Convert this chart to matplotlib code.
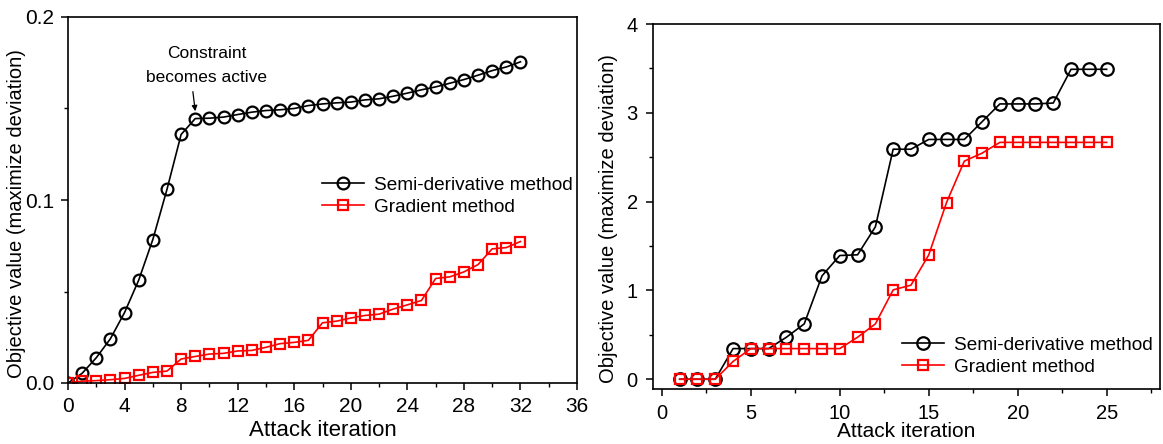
import matplotlib
matplotlib.use("Agg")
import matplotlib.pyplot as plt
from matplotlib.ticker import MultipleLocator, FormatStrFormatter

# ---- data: left panel ----
iter_left = list(range(0, 33))
semi_left = [0.0, 0.0053, 0.0138, 0.0242, 0.0385, 0.0562, 0.0784, 0.1058, 0.1358,
             0.1445, 0.1447, 0.1453, 0.1467, 0.1480, 0.1489, 0.1493, 0.1500, 0.1516,
             0.1525, 0.1531, 0.1535, 0.1547, 0.1553, 0.1567, 0.1584, 0.1602, 0.1618,
             0.1638, 0.1658, 0.1682, 0.1707, 0.1727, 0.1755]
grad_left = [0.0, 0.0010, 0.0013, 0.0018, 0.0025, 0.0042, 0.0058, 0.0065, 0.0131,
             0.0145, 0.0158, 0.0162, 0.0175, 0.0178, 0.0195, 0.0215, 0.0222, 0.0233,
             0.0329, 0.0338, 0.0355, 0.0369, 0.0376, 0.0404, 0.0427, 0.0451, 0.0571,
             0.0580, 0.0607, 0.0647, 0.0733, 0.0740, 0.0773]

# ---- data: right panel ----
iter_right = list(range(1, 26))
semi_right = [0.0, 0.0, 0.0, 0.345, 0.345, 0.345, 0.473, 0.623, 1.164, 1.393, 1.401,
              1.716, 2.59, 2.59, 2.70, 2.70, 2.70, 2.90, 3.10, 3.10, 3.10, 3.11,
              3.49, 3.49, 3.49]
grad_right = [0.0, 0.0, 0.0, 0.20, 0.345, 0.345, 0.345, 0.345, 0.345, 0.345, 0.473,
              0.623, 1.006, 1.059, 1.40, 1.99, 2.456, 2.546, 2.667, 2.667, 2.667,
              2.667, 2.667, 2.667, 2.667]

labels = ["Semi-derivative method", "Gradient method"]
ylabel = "Objective value (maximize deviation)"
xlabel = "Attack iteration"

plt.rcParams['font.family'] = ['Liberation Sans', 'DejaVu Sans']

fig = plt.figure(figsize=(11.63, 4.44), dpi=100)
W, H = 1163, 444
def axrect(l, t, r, b):
    return [l / W, 1 - b / H, (r - l) / W, (b - t) / H]

ax1 = fig.add_axes(axrect(68, 17, 577, 383))
ax2 = fig.add_axes(axrect(653, 24, 1160, 389))

for ax in (ax1, ax2):
    for s in ax.spines.values():
        s.set_linewidth(1.2)
    ax.tick_params(which='major', direction='out', length=5, width=1.1)
    ax.tick_params(which='minor', direction='out', length=3, width=1.0)
ax1.tick_params(which='major', labelsize=15, pad=5)
ax2.tick_params(which='major', labelsize=14.5, pad=6)

# left
ax1.plot(iter_left, semi_left, color='black', lw=1.2, marker='o', ms=8.5,
         mfc='none', mec='black', mew=1.6, label=labels[0])
ax1.plot(iter_left, grad_left, color='red', lw=1.2, marker='s', ms=7,
         mfc='none', mec='red', mew=1.6, label=labels[1])
ax1.set_xlim(0, 36)
ax1.set_ylim(0, 0.2)
ax1.xaxis.set_major_locator(MultipleLocator(4))
ax1.xaxis.set_minor_locator(MultipleLocator(2))
ax1.yaxis.set_major_locator(MultipleLocator(0.1))
ax1.yaxis.set_minor_locator(MultipleLocator(0.05))
ax1.yaxis.set_major_formatter(FormatStrFormatter('%.1f'))
ax1.set_xlabel(xlabel, fontsize=16, labelpad=3)
ax1.set_ylabel(ylabel, fontsize=14.5, va='center')
ax1.yaxis.set_label_coords(-0.102, 0.462)
ax1.annotate("Constraint\nbecomes active", xy=(9, semi_left[9] + 0.004),
             xytext=(9.8, 0.163), ha='center', va='bottom', fontsize=12.5,
             linespacing=1.75,
             arrowprops=dict(arrowstyle='-|>', color='black', lw=0.9,
                             mutation_scale=8, shrinkA=3, shrinkB=0,
                             relpos=(0.38, 0.0)))
ax1.legend(loc='upper left', bbox_to_anchor=(0.485, 0.585), frameon=False,
           fontsize=13.7, handlelength=2.2, handletextpad=0.5, labelspacing=0.25,
           borderaxespad=0)

# right
ax2.plot(iter_right, semi_right, color='black', lw=1.2, marker='o', ms=9,
         mfc='none', mec='black', mew=1.6, label=labels[0])
ax2.plot(iter_right, grad_right, color='red', lw=1.2, marker='s', ms=7,
         mfc='none', mec='red', mew=1.6, label=labels[1])
ax2.set_xlim(-0.5, 28)
ax2.set_ylim(-0.11, 4)
ax2.xaxis.set_major_locator(MultipleLocator(5))
ax2.xaxis.set_minor_locator(MultipleLocator(2.5))
ax2.yaxis.set_major_locator(MultipleLocator(1))
ax2.yaxis.set_minor_locator(MultipleLocator(0.5))
ax2.set_xlabel(xlabel, fontsize=15, labelpad=-1)
ax2.set_ylabel(ylabel, fontsize=14.5, va='center')
ax2.yaxis.set_label_coords(-0.088, 0.466)
ax2.legend(loc='lower right', bbox_to_anchor=(1.0, 0.015), frameon=False,
           fontsize=13.7, handlelength=2.2, handletextpad=0.5, labelspacing=0.25,
           borderaxespad=0)

fig.savefig("out.png", dpi=100)
